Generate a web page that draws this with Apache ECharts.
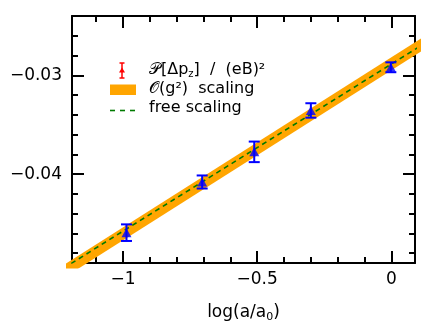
<!DOCTYPE html>
<html><head><meta charset="utf-8">
<script src="https://cdn.jsdelivr.net/npm/echarts@6/dist/echarts.min.js"></script>
<style>html,body{margin:0;padding:0;background:#fff}#c{width:425px;height:323px}</style>
</head><body><div id="c"></div>
<script>
// ---- data ----
const xTickMajor = [-1, -0.5, 0];
const xTickMinor = [-1.1, -0.9, -0.8, -0.7, -0.6, -0.4, -0.3, -0.2, -0.1];
const yTickMajor = [-0.04, -0.03];
const yTickMinor = [-0.048, -0.046, -0.044, -0.042, -0.038, -0.036, -0.034, -0.032, -0.028, -0.026];
const xData = [-0.987, -0.705, -0.511, -0.300, -0.002];
const yData = [-0.04593, -0.0408, -0.03775, -0.03356, -0.02919];
const yErr  = [0.00084, 0.00066, 0.00104, 0.00073, 0.0005];
const bandX = [-1.25, 0.15];
const bandY = [-0.05035, -0.02625];
const freeX = [-1.25, 0.15];
const freeY = [-0.05001, -0.02633];
const xMin = -1.19, xMax = 0.088, yMin = -0.049, yMax = -0.024;

const FONT = 'DejaVu Sans';
const fmt = v => (v < 0 ? '\u2212' : '') + String(Math.abs(v));

function xAx(pos, major, showLine, showLabel) {
  return {
    type: 'value', position: pos, min: xMin, max: xMax,
    axisLine: { show: showLine, onZero: false, lineStyle: { color: '#000', width: 2 } },
    axisTick: { show: true, inside: true, length: major ? 12 : 6, customValues: major ? xTickMajor : xTickMinor,
                lineStyle: { color: '#000', width: 2 } },
    axisLabel: { show: showLabel, customValues: xTickMajor, formatter: fmt, color: '#000',
                 fontFamily: FONT, fontSize: 17, margin: 8 },
    splitLine: { show: false }
  };
}
function yAx(pos, major, showLine, showLabel) {
  return {
    type: 'value', position: pos, min: yMin, max: yMax,
    axisLine: { show: showLine, onZero: false, lineStyle: { color: '#000', width: 2 } },
    axisTick: { show: true, inside: true, length: major ? 12 : 6, customValues: major ? yTickMajor : yTickMinor,
                lineStyle: { color: '#000', width: 2 } },
    axisLabel: { show: showLabel, customValues: yTickMajor, formatter: fmt, color: '#000',
                 fontFamily: FONT, fontSize: 17, margin: 10 },
    splitLine: { show: false }
  };
}

const xAxes = [xAx('bottom', true, true, true), xAx('bottom', false, false, false),
               xAx('top', true, true, false), xAx('top', false, false, false)];
xAxes[0].name = '{n|log(a/a}{s|0}{n|)}';
xAxes[0].nameLocation = 'middle';
xAxes[0].nameGap = 39;
xAxes[0].nameTextStyle = { rich: {
  n: { fontFamily: FONT, fontSize: 17, color: '#000' },
  s: { fontFamily: FONT, fontSize: 11, color: '#000', padding: [10, 0, 0, 0] } } };
const yAxes = [yAx('left', true, true, true), yAx('left', false, false, false),
               yAx('right', true, true, false), yAx('right', false, false, false)];

const pts = xData.map((x, i) => [x, yData[i], yErr[i]]);

const chart = echarts.init(document.getElementById('c'), null, { renderer: 'canvas' });
chart.setOption({
  animation: false,
  backgroundColor: '#fff',
  grid: { left: 72, right: 10, top: 16, bottom: 60, containLabel: false, outerBoundsMode: 'none' },
  xAxis: xAxes,
  yAxis: yAxes,
  series: [
    { name: 'band', type: 'line', clip: true, symbol: 'none', z: 1,
      data: bandX.map((x, i) => [x, bandY[i]]),
      lineStyle: { color: '#FFA500', width: 11, cap: 'butt' } },
    { name: 'free', type: 'line', clip: true, symbol: 'none', z: 2,
      data: freeX.map((x, i) => [x, freeY[i]]),
      lineStyle: { color: '#007A00', width: 1.6, type: [5, 4] } },
    { name: 'err', type: 'custom', z: 3,
      data: pts,
      renderItem: function (params, api) {
        const x = api.value(0), y = api.value(1), e = api.value(2);
        const a = api.coord([x, y + e]), b = api.coord([x, y - e]);
        const w = 5.5;
        const st = { stroke: '#0000FF', lineWidth: 2 };
        return { type: 'group', children: [
          { type: 'line', shape: { x1: a[0], y1: a[1], x2: b[0], y2: b[1] }, style: st },
          { type: 'line', shape: { x1: a[0] - w, y1: a[1], x2: a[0] + w, y2: a[1] }, style: st },
          { type: 'line', shape: { x1: b[0] - w, y1: b[1], x2: b[0] + w, y2: b[1] }, style: st }
        ]};
      } },
    { name: 'pts', type: 'scatter', z: 4, symbol: 'triangle', symbolSize: [10, 9],
      data: pts.map(p => [p[0], p[1]]),
      itemStyle: { color: '#0000FF' } }
  ],
  graphic: [
    // legend row 1: red error bar + triangle
    { type: 'line', shape: { x1: 122, y1: 63, x2: 122, y2: 78 }, style: { stroke: '#FF0000', lineWidth: 1.5 } },
    { type: 'line', shape: { x1: 119.5, y1: 63, x2: 124.5, y2: 63 }, style: { stroke: '#FF0000', lineWidth: 1.5 } },
    { type: 'line', shape: { x1: 119.5, y1: 78, x2: 124.5, y2: 78 }, style: { stroke: '#FF0000', lineWidth: 1.5 } },
    { type: 'polygon', shape: { points: [[122, 67.5], [125, 72.5], [119, 72.5]] }, style: { fill: '#FF0000' } },
    { type: 'text', left: 149, top: 62, style: {
        text: '{n|\u{1D4AB}[\u0394p}{s|z}{n|]  /  (eB)\u00B2}',
        rich: { n: { fontFamily: FONT, fontSize: 16, fill: '#000' },
                s: { fontFamily: FONT, fontSize: 10, fill: '#000', padding: [8, 0, 0, 0] } } } },
    // legend row 2: orange rect
    { type: 'rect', shape: { x: 110, y: 84.5, width: 26, height: 10.5 }, style: { fill: '#FFA500' } },
    { type: 'text', left: 149, top: 81, style: { text: '\u{1D4AA}(g\u00B2)  scaling', fontFamily: FONT, fontSize: 16, fill: '#000' } },
    // legend row 3: green dashes
    { type: 'line', shape: { x1: 110, y1: 110.5, x2: 136, y2: 110.5 },
      style: { stroke: '#007A00', lineWidth: 1.6, lineDash: [5, 5] } },
    { type: 'text', left: 149, top: 100, style: { text: 'free scaling', fontFamily: FONT, fontSize: 16, fill: '#000' } }
  ]
});
</script></body></html>
